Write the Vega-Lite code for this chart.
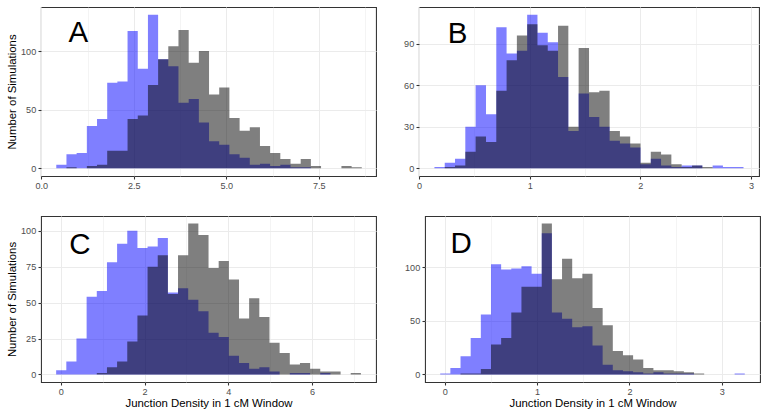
{
  "$schema": "https://vega.github.io/schema/vega-lite/v6.json",
  "padding": {"left": 5, "top": 6, "right": 5, "bottom": 5},
  "autosize": {"type": "pad"},
  "background": "white",
  "spacing": 24,
  "datasets": {
    "A": [
      {"x":0.405,"blue":3,"grey":0},{"x":0.680,"blue":12,"grey":1},{"x":0.955,"blue":13,"grey":0},
      {"x":1.231,"blue":36,"grey":2},{"x":1.506,"blue":42,"grey":3},{"x":1.781,"blue":73,"grey":15},
      {"x":2.056,"blue":74,"grey":15},{"x":2.331,"blue":117,"grey":42},{"x":2.607,"blue":85,"grey":45},
      {"x":2.882,"blue":131,"grey":71},{"x":3.157,"blue":93,"grey":93},{"x":3.432,"blue":87,"grey":104},
      {"x":3.707,"blue":56,"grey":118},{"x":3.983,"blue":59,"grey":90},{"x":4.258,"blue":39,"grey":100},
      {"x":4.533,"blue":23,"grey":63},{"x":4.808,"blue":20,"grey":69},{"x":5.083,"blue":12,"grey":43},
      {"x":5.359,"blue":9,"grey":32},{"x":5.634,"blue":3,"grey":35},{"x":5.909,"blue":4,"grey":19},
      {"x":6.184,"blue":2,"grey":13},{"x":6.459,"blue":3,"grey":8},{"x":6.735,"blue":1,"grey":4},
      {"x":7.010,"blue":1,"grey":8},{"x":7.285,"blue":0,"grey":2},{"x":7.560,"blue":0,"grey":0},
      {"x":7.835,"blue":0,"grey":0},{"x":8.111,"blue":0,"grey":2},{"x":8.386,"blue":0,"grey":1},
      {"x":8.661,"blue":0,"grey":0}
    ],
    "B": [
      {"x":0.139,"blue":1,"grey":0},{"x":0.232,"blue":4,"grey":1},{"x":0.325,"blue":7,"grey":2},
      {"x":0.418,"blue":30,"grey":12},{"x":0.511,"blue":60,"grey":23},{"x":0.605,"blue":39,"grey":19},
      {"x":0.698,"blue":102,"grey":56},{"x":0.791,"blue":83,"grey":78},{"x":0.884,"blue":85,"grey":96},
      {"x":0.977,"blue":111,"grey":104},{"x":1.070,"blue":98,"grey":89},{"x":1.163,"blue":91,"grey":85},
      {"x":1.256,"blue":66,"grey":103},{"x":1.349,"blue":27,"grey":30},{"x":1.442,"blue":54,"grey":87},
      {"x":1.536,"blue":37,"grey":55},{"x":1.629,"blue":30,"grey":56},{"x":1.722,"blue":20,"grey":27},
      {"x":1.815,"blue":18,"grey":23},{"x":1.908,"blue":15,"grey":18},{"x":2.001,"blue":3,"grey":4},
      {"x":2.094,"blue":7,"grey":12},{"x":2.187,"blue":2,"grey":10},{"x":2.280,"blue":1,"grey":3},
      {"x":2.373,"blue":2,"grey":1},{"x":2.467,"blue":2,"grey":2},{"x":2.560,"blue":0,"grey":1},
      {"x":2.653,"blue":2,"grey":0},{"x":2.746,"blue":1,"grey":0},{"x":2.839,"blue":1,"grey":0},
      {"x":2.932,"blue":0,"grey":0}
    ],
    "C": [
      {"x":-0.112,"blue":3,"grey":0},{"x":0.131,"blue":9,"grey":0},{"x":0.373,"blue":25,"grey":0},
      {"x":0.616,"blue":54,"grey":0},{"x":0.859,"blue":58,"grey":1},{"x":1.102,"blue":78,"grey":5},
      {"x":1.344,"blue":91,"grey":9},{"x":1.587,"blue":100,"grey":23},{"x":1.830,"blue":88,"grey":41},
      {"x":2.072,"blue":89,"grey":75},{"x":2.315,"blue":95,"grey":83},{"x":2.558,"blue":57,"grey":56},
      {"x":2.800,"blue":60,"grey":83},{"x":3.043,"blue":52,"grey":105},{"x":3.286,"blue":44,"grey":97},
      {"x":3.529,"blue":29,"grey":74},{"x":3.771,"blue":26,"grey":79},{"x":4.014,"blue":13,"grey":66},
      {"x":4.257,"blue":8,"grey":39},{"x":4.499,"blue":4,"grey":53},{"x":4.742,"blue":5,"grey":40},
      {"x":4.985,"blue":2,"grey":22},{"x":5.227,"blue":0,"grey":15},{"x":5.470,"blue":1,"grey":7},
      {"x":5.713,"blue":1,"grey":8},{"x":5.956,"blue":0,"grey":4},{"x":6.198,"blue":1,"grey":2},
      {"x":6.441,"blue":0,"grey":2},{"x":6.684,"blue":0,"grey":0},{"x":6.926,"blue":0,"grey":1},
      {"x":7.169,"blue":0,"grey":0}
    ],
    "D": [
      {"x":-0.050,"blue":1,"grey":0},{"x":0.060,"blue":6,"grey":0},{"x":0.170,"blue":17,"grey":1},
      {"x":0.280,"blue":34,"grey":1},{"x":0.390,"blue":56,"grey":5},{"x":0.500,"blue":103,"grey":28},
      {"x":0.610,"blue":98,"grey":34},{"x":0.720,"blue":99,"grey":58},{"x":0.830,"blue":101,"grey":82},
      {"x":0.940,"blue":94,"grey":82},{"x":1.050,"blue":132,"grey":141},{"x":1.160,"blue":58,"grey":89},
      {"x":1.270,"blue":52,"grey":108},{"x":1.380,"blue":44,"grey":90},{"x":1.490,"blue":45,"grey":94},
      {"x":1.600,"blue":27,"grey":62},{"x":1.710,"blue":9,"grey":46},{"x":1.820,"blue":4,"grey":22},
      {"x":1.930,"blue":3,"grey":18},{"x":2.040,"blue":2,"grey":14},{"x":2.150,"blue":1,"grey":6},
      {"x":2.260,"blue":2,"grey":4},{"x":2.370,"blue":1,"grey":4},{"x":2.480,"blue":1,"grey":3},
      {"x":2.590,"blue":1,"grey":2},{"x":2.700,"blue":0,"grey":1},{"x":2.810,"blue":0,"grey":0},
      {"x":2.920,"blue":0,"grey":0},{"x":3.030,"blue":0,"grey":0},{"x":3.140,"blue":1,"grey":0},
      {"x":3.250,"blue":0,"grey":0}
    ]
  },
  "vconcat": [
    {
      "spacing": 26,
      "hconcat": [
        {
          "width": 335, "height": 169,
          "layer": [
            {
              "data": {"name": "A"},
              "mark": {"type": "area", "interpolate": "step-after", "fill": "#0000ff", "fillOpacity": 0.5, "strokeWidth": 0},
              "encoding": {
                "x": {"field": "x", "type": "quantitative", "title": null,
                  "scale": {"domain": [-0.008, 9.045], "nice": false, "zero": false},
                  "axis": {"values": [0, 1.25, 2.5, 3.75, 5, 6.25, 7.5, 8.75],
                    "labelExpr": "datum.value % 2.5 == 0 ? format(datum.value, '.1f') : ''",
                    "tickOpacity": {"condition": {"test": "datum.value % 2.5 != 0", "value": 0}, "value": 1},
                    "gridWidth": {"condition": {"test": "datum.value % 2.5 != 0", "value": 0.55}, "value": 1.07}}},
                "y": {"field": "blue", "type": "quantitative", "title": "Number of Simulations",
                  "scale": {"domain": [-6.55, 137.55], "nice": false, "zero": false},
                  "axis": {"values": [0, 25, 50, 75, 100, 125],
                    "labelExpr": "datum.value % 50 == 0 ? format(datum.value, 'd') : ''",
                    "tickOpacity": {"condition": {"test": "datum.value % 50 != 0", "value": 0}, "value": 1},
                    "gridWidth": {"condition": {"test": "datum.value % 50 != 0", "value": 0.55}, "value": 1.07}}},
                "y2": {"datum": 0}
              }
            },
            {
              "data": {"name": "A"},
              "mark": {"type": "area", "interpolate": "step-after", "fill": "#000000", "fillOpacity": 0.5, "strokeWidth": 0},
              "encoding": {
                "x": {"field": "x", "type": "quantitative", "title": null},
                "y": {"field": "grey", "type": "quantitative", "title": "Number of Simulations"},
                "y2": {"datum": 0}
              }
            },
            {
              "data": {"values": [{"label": "A"}]},
              "mark": {"type": "text", "font": "Liberation Sans", "fontSize": 29.5, "align": "center", "baseline": "middle", "color": "#000000"},
              "encoding": {"x": {"datum": 1.0}, "y": {"datum": 115}, "text": {"field": "label"}}
            }
          ]
        },
        {
          "width": 340, "height": 169,
          "layer": [
            {
              "data": {"name": "B"},
              "mark": {"type": "area", "interpolate": "step-after", "fill": "#0000ff", "fillOpacity": 0.5, "strokeWidth": 0},
              "encoding": {
                "x": {"field": "x", "type": "quantitative", "title": null,
                  "scale": {"domain": [-0.0005, 3.072], "nice": false, "zero": false},
                  "axis": {"values": [0, 0.5, 1, 1.5, 2, 2.5, 3],
                    "labelExpr": "datum.value % 1 == 0 ? format(datum.value, 'd') : ''",
                    "tickOpacity": {"condition": {"test": "datum.value % 1 != 0", "value": 0}, "value": 1},
                    "gridWidth": {"condition": {"test": "datum.value % 1 != 0", "value": 0.55}, "value": 1.07}}},
                "y": {"field": "blue", "type": "quantitative", "title": null,
                  "scale": {"domain": [-5.55, 116.55], "nice": false, "zero": false},
                  "axis": {"values": [0, 15, 30, 45, 60, 75, 90, 105],
                    "labelExpr": "datum.value % 30 == 0 ? format(datum.value, 'd') : ''",
                    "tickOpacity": {"condition": {"test": "datum.value % 30 != 0", "value": 0}, "value": 1},
                    "gridWidth": {"condition": {"test": "datum.value % 30 != 0", "value": 0.55}, "value": 1.07}}},
                "y2": {"datum": 0}
              }
            },
            {
              "data": {"name": "B"},
              "mark": {"type": "area", "interpolate": "step-after", "fill": "#000000", "fillOpacity": 0.5, "strokeWidth": 0},
              "encoding": {
                "x": {"field": "x", "type": "quantitative", "title": null},
                "y": {"field": "grey", "type": "quantitative", "title": null},
                "y2": {"datum": 0}
              }
            },
            {
              "data": {"values": [{"label": "B"}]},
              "mark": {"type": "text", "font": "Liberation Sans", "fontSize": 29.5, "align": "center", "baseline": "middle", "color": "#000000"},
              "encoding": {"x": {"datum": 0.348}, "y": {"datum": 97.4}, "text": {"field": "label"}}
            }
          ]
        }
      ]
    },
    {
      "spacing": 26,
      "hconcat": [
        {
          "width": 335, "height": 166,
          "layer": [
            {
              "data": {"name": "C"},
              "mark": {"type": "area", "interpolate": "step-after", "fill": "#0000ff", "fillOpacity": 0.5, "strokeWidth": 0},
              "encoding": {
                "x": {"field": "x", "type": "quantitative", "title": "Junction Density in 1 cM Window",
                  "scale": {"domain": [-0.474, 7.53], "nice": false, "zero": false},
                  "axis": {"values": [0, 1, 2, 3, 4, 5, 6, 7], "titlePadding": 1.5,
                    "labelExpr": "datum.value % 2 == 0 ? format(datum.value, 'd') : ''",
                    "tickOpacity": {"condition": {"test": "datum.value % 2 != 0", "value": 0}, "value": 1},
                    "gridWidth": {"condition": {"test": "datum.value % 2 != 0", "value": 0.55}, "value": 1.07}}},
                "y": {"field": "blue", "type": "quantitative", "title": "Number of Simulations",
                  "scale": {"domain": [-5.25, 110.25], "nice": false, "zero": false},
                  "axis": {"values": [0, 12.5, 25, 37.5, 50, 62.5, 75, 87.5, 100],
                    "labelExpr": "datum.value % 25 == 0 ? format(datum.value, 'd') : ''",
                    "tickOpacity": {"condition": {"test": "datum.value % 25 != 0", "value": 0}, "value": 1},
                    "gridWidth": {"condition": {"test": "datum.value % 25 != 0", "value": 0.55}, "value": 1.07}}},
                "y2": {"datum": 0}
              }
            },
            {
              "data": {"name": "C"},
              "mark": {"type": "area", "interpolate": "step-after", "fill": "#000000", "fillOpacity": 0.5, "strokeWidth": 0},
              "encoding": {
                "x": {"field": "x", "type": "quantitative", "title": "Junction Density in 1 cM Window"},
                "y": {"field": "grey", "type": "quantitative", "title": "Number of Simulations"},
                "y2": {"datum": 0}
              }
            },
            {
              "data": {"values": [{"label": "C"}]},
              "mark": {"type": "text", "font": "Liberation Sans", "fontSize": 29.5, "align": "center", "baseline": "middle", "color": "#000000"},
              "encoding": {"x": {"datum": 0.458}, "y": {"datum": 90.3}, "text": {"field": "label"}}
            }
          ]
        },
        {
          "width": 335, "height": 166,
          "layer": [
            {
              "data": {"name": "D"},
              "mark": {"type": "area", "interpolate": "step-after", "fill": "#0000ff", "fillOpacity": 0.5, "strokeWidth": 0},
              "encoding": {
                "x": {"field": "x", "type": "quantitative", "title": "Junction Density in 1 cM Window",
                  "scale": {"domain": [-0.215, 3.415], "nice": false, "zero": false},
                  "axis": {"values": [0, 0.5, 1, 1.5, 2, 2.5, 3], "titlePadding": 1.5,
                    "labelExpr": "datum.value % 1 == 0 ? format(datum.value, 'd') : ''",
                    "tickOpacity": {"condition": {"test": "datum.value % 1 != 0", "value": 0}, "value": 1},
                    "gridWidth": {"condition": {"test": "datum.value % 1 != 0", "value": 0.55}, "value": 1.07}}},
                "y": {"field": "blue", "type": "quantitative", "title": null,
                  "scale": {"domain": [-7.05, 148.05], "nice": false, "zero": false},
                  "axis": {"values": [0, 25, 50, 75, 100, 125],
                    "labelExpr": "datum.value % 50 == 0 ? format(datum.value, 'd') : ''",
                    "tickOpacity": {"condition": {"test": "datum.value % 50 != 0", "value": 0}, "value": 1},
                    "gridWidth": {"condition": {"test": "datum.value % 50 != 0", "value": 0.55}, "value": 1.07}}},
                "y2": {"datum": 0}
              }
            },
            {
              "data": {"name": "D"},
              "mark": {"type": "area", "interpolate": "step-after", "fill": "#000000", "fillOpacity": 0.5, "strokeWidth": 0},
              "encoding": {
                "x": {"field": "x", "type": "quantitative", "title": "Junction Density in 1 cM Window"},
                "y": {"field": "grey", "type": "quantitative", "title": null},
                "y2": {"datum": 0}
              }
            },
            {
              "data": {"values": [{"label": "D"}]},
              "mark": {"type": "text", "font": "Liberation Sans", "fontSize": 29.5, "align": "center", "baseline": "middle", "color": "#000000"},
              "encoding": {"x": {"datum": 0.176}, "y": {"datum": 121.7}, "text": {"field": "label"}}
            }
          ]
        }
      ]
    }
  ],
  "config": {
    "view": {"stroke": "#333333", "strokeWidth": 1.07},
    "axis": {
      "domain": false,
      "grid": true,
      "gridColor": "#ebebeb",
      "tickColor": "#333333",
      "tickSize": 3,
      "tickWidth": 1.07,
      "labelColor": "#4d4d4d",
      "labelFont": "Liberation Sans",
      "labelFontSize": 9.1,
      "labelPadding": 2.3,
      "labelFlush": false,
      "labelOverlap": false,
      "titleFont": "Liberation Sans",
      "titleFontSize": 11.4,
      "titleFontWeight": "normal",
      "titleColor": "#000000",
      "titlePadding": 3.5
    }
  }
}
